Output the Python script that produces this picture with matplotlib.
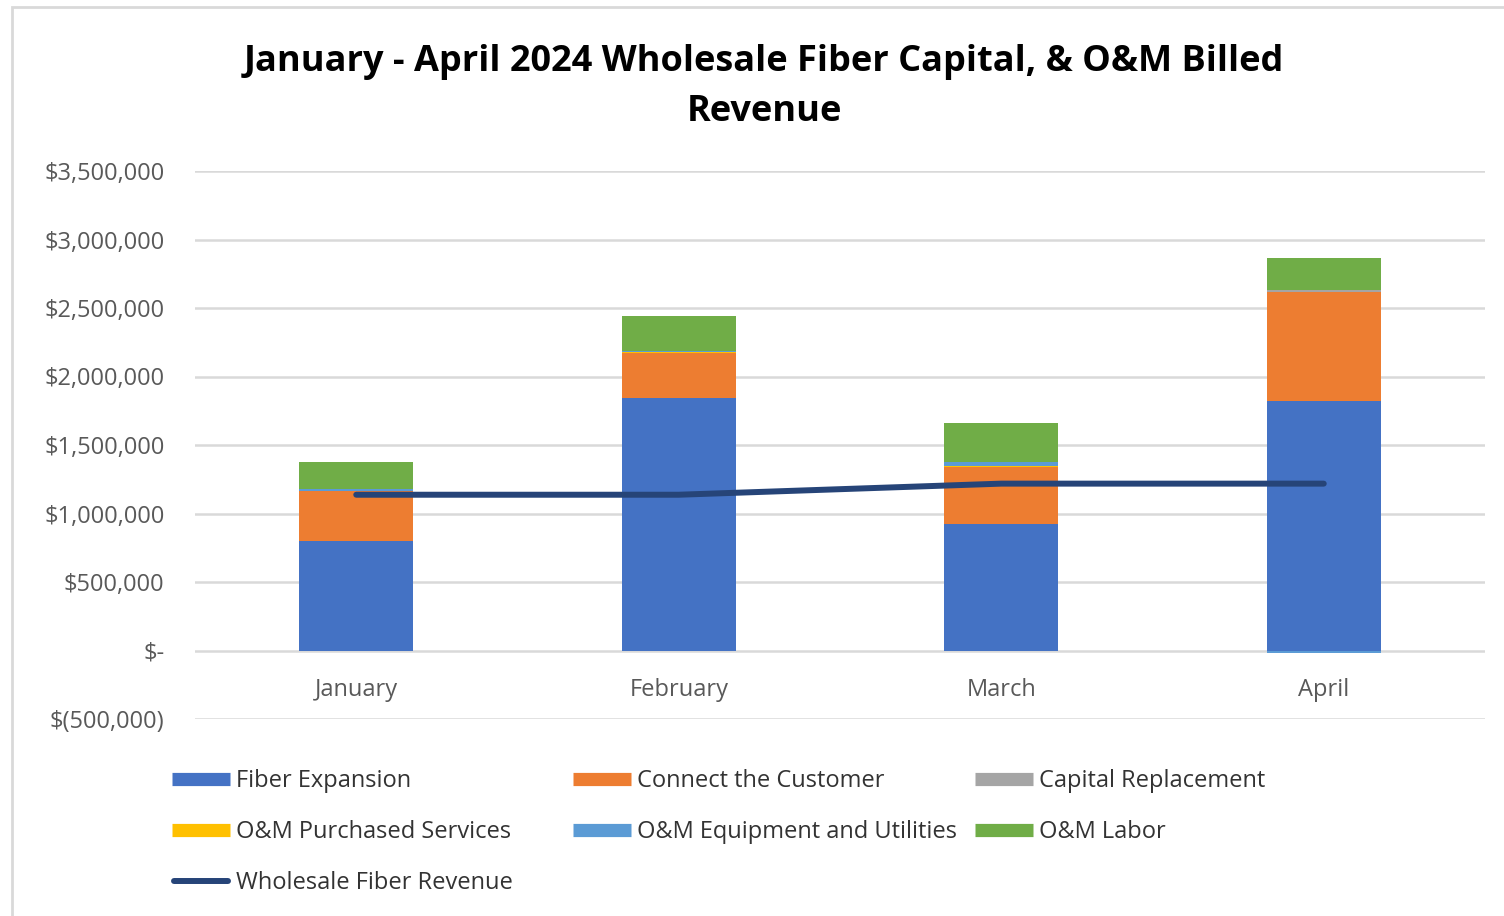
import matplotlib.pyplot as plt
import numpy as np
from matplotlib.lines import Line2D
from matplotlib.patches import Rectangle

plt.rcParams['font.family'] = ['Open Sans', 'DejaVu Sans']

months = ['January', 'February', 'March', 'April']
fiber_expansion = [802000, 1845000, 926000, 1823000]
connect_customer = [365000, 328000, 416000, 795000]
capital_replacement = [0, 0, 0, 17000]
om_purchased = [0, 7000, 6000, 0]
om_equipment = [15000, 5000, 30000, -15000]
om_labor = [196000, 255000, 284000, 233000]
wholesale_revenue = [1137000, 1137000, 1218000, 1218000]

names = ['Fiber Expansion', 'Connect the Customer', 'Capital Replacement',
         'O&M Purchased Services', 'O&M Equipment and Utilities', 'O&M Labor']
series = [fiber_expansion, connect_customer, capital_replacement,
          om_purchased, om_equipment, om_labor]
colors = ['#4472C4', '#ED7D31', '#A5A5A5', '#FFC000', '#5B9BD5', '#70AD47']
line_color = '#264478'

W, H = 1504, 916
fig = plt.figure(figsize=(W/100, H/100), dpi=100)
ax = fig.add_axes([195/W, 1-719/H, 1290/W, 548/H])

x = np.arange(len(months))
pos_bottom = np.zeros(len(months))
neg_bottom = np.zeros(len(months))
for vals, c in zip(series, colors):
    v = np.array(vals, dtype=float)
    b = np.where(v >= 0, pos_bottom, neg_bottom)
    ax.bar(x, v, 0.355, bottom=b, color=c, zorder=3)
    pos_bottom += np.where(v >= 0, v, 0)
    neg_bottom += np.where(v < 0, v, 0)

ax.plot(x, wholesale_revenue, color=line_color, lw=4.3, solid_capstyle='round', zorder=4)

ax.set_xlim(-0.5, 3.5)
ax.set_ylim(-500000, 3500000)
yt = np.arange(-500000, 3500001, 500000)
ax.set_yticks(yt)

def fmt(v):
    if v == 0:
        return '$-'
    if v < 0:
        return '$({:,.0f})'.format(-v)
    return '${:,.0f}'.format(v)

ax.set_yticklabels([fmt(v) for v in yt], fontsize=17, color='#595959')
ax.tick_params(axis='y', length=0, pad=22)
ax.set_xticks([])
for s in ax.spines.values():
    s.set_visible(False)
for v in yt:
    ax.axhline(v, color='#D9D9D9', lw=1.8, zorder=1)

for i, m in enumerate(months):
    ax.text(i, -285000, m, ha='center', va='center', fontsize=17, color='#595959')

fig.text(764/W, 1-62/H, 'January - April 2024 Wholesale Fiber Capital, & O&M Billed',
         ha='center', va='center', fontsize=26, fontweight='bold', color='black')
fig.text(764/W, 1-112/H, 'Revenue',
         ha='center', va='center', fontsize=26, fontweight='bold', color='black')

# legend, laid out like Excel: 3 columns, row-major
col_x = [172, 573, 975]
row_y = [779, 830, 881]
labels = names + ['Wholesale Fiber Revenue']
for k, lab in enumerate(labels):
    cx = col_x[k % 3]
    ry = 1 - row_y[k // 3] / H
    if k < len(colors):
        fig.add_artist(Line2D([cx/W, (cx+58)/W], [ry, ry], color=colors[k], lw=9.5,
                              solid_capstyle='butt', transform=fig.transFigure))
    else:
        fig.add_artist(Line2D([(cx+2)/W, (cx+56)/W], [ry, ry], color=line_color, lw=4.3,
                              solid_capstyle='round', transform=fig.transFigure))
    fig.text((cx+64)/W, ry - 2/H, lab, ha='left', va='center', fontsize=17, color='#333333')

fig.patches.append(Rectangle((12/W, -0.1), 1.2, 1.1 - 7/H, transform=fig.transFigure,
                             fill=False, edgecolor='#D9D9D9', lw=2))

fig.savefig('out.png', dpi=100)
